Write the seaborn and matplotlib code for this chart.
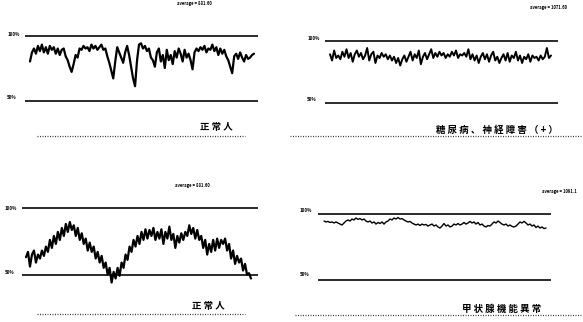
import matplotlib
matplotlib.use("Agg")
import matplotlib.pyplot as plt
from matplotlib.lines import Line2D
import pandas as pd
import seaborn as sns

# R-R interval traces, expressed as % of the reference (100% / 50% guide lines)
normal_a = [80, 87, 90, 86, 92, 88, 93, 87, 91, 86, 92, 89, 91, 86, 90, 85, 89, 90, 84, 81,
            76, 72, 78, 85, 83, 90, 89, 92, 90, 91, 88, 93, 90, 92, 89, 91, 93, 89, 90, 84,
            79, 73, 67, 80, 91, 87, 83, 79, 87, 92, 85, 76, 67, 61, 81, 93, 94, 90, 92, 88,
            90, 83, 81, 76, 87, 90, 80, 85, 75, 89, 81, 85, 78, 88, 83, 90, 86, 80, 89, 83,
            86, 81, 74, 87, 90, 88, 91, 89, 92, 87, 90, 89, 93, 88, 91, 85, 90, 86, 89, 84,
            81, 76, 71, 84, 86, 82, 87, 83, 80, 85, 82, 83, 85, 86]

diabetic = [89, 84, 92, 86, 88, 85, 91, 87, 93, 86, 90, 83, 89, 92, 87, 90, 85, 88, 94, 84,
            89, 91, 82, 88, 86, 90, 87, 89, 85, 88, 84, 87, 82, 86, 80, 85, 88, 83, 87, 91,
            84, 89, 86, 92, 81, 87, 90, 85, 89, 93, 86, 90, 87, 91, 88, 90, 86, 89, 87, 91,
            88, 92, 86, 89, 88, 90, 87, 93, 85, 89, 84, 88, 82, 87, 90, 85, 89, 83, 88, 91,
            84, 87, 82, 86, 89, 84, 90, 83, 88, 86, 91, 84, 88, 82, 87, 85, 89, 83, 88, 86,
            87, 84, 88, 85, 87, 94, 86, 88]

normal_b = [63, 67, 56, 65, 68, 59, 65, 62, 68, 64, 71, 67, 76, 70, 79, 73, 82, 76, 85, 79,
            88, 82, 89.5, 83.5, 87, 79, 85, 76, 81, 73, 77, 68, 74, 67, 71, 62, 67, 59, 64, 55,
            59, 50, 55, 44, 52, 47, 55, 49, 59, 55, 65, 61, 71, 67, 76, 71, 79, 73, 82, 76,
            84, 77, 83.5, 79, 85, 76, 82, 77, 84, 73, 82, 77, 86, 76, 80.5, 70, 79, 74, 81, 76,
            82, 79, 87, 80.5, 85, 77, 83.5, 76, 79, 70, 76, 65, 73, 67, 76, 68, 77, 70, 76, 73,
            77, 68, 73, 62, 68, 58, 64, 59, 62, 53, 58, 50, 51, 47]

thyroid = [94.3, 93.6, 94, 93.2, 93.6, 92.8, 93.6, 92.8, 92, 91.3, 92.8, 94.3, 95.1, 94.3, 95.8,
           95.1, 96.6, 95.5, 96.2, 95.1, 95.8, 94.3, 93.6, 94.3, 92.8, 93.6, 92, 93.2, 92.4, 93.6,
           92, 93.6, 94.3, 95.8, 95.1, 96.6, 95.8, 97, 95.8, 96.2, 95.1, 94.3, 93.6, 94, 92.8,
           92, 91.3, 92, 90.9, 92, 91.3, 91.7, 90.5, 91.3, 92, 90.5, 91.3, 89.8, 89, 90.5,
           92.4, 90.5, 91.3, 89.8, 90.5, 92, 91.3, 92.4, 91.3, 92, 93.2, 92, 92.8, 94, 92.8,
           93.6, 92, 93.2, 91.3, 92, 90.5, 89.8, 90.9, 90.5, 92, 93.6, 92.8, 94.3, 93.2, 92,
           91.3, 92, 90.5, 91.3, 90.2, 89.8, 90.5, 92, 93.6, 92.8, 94, 92.8, 91.3, 92, 90.5,
           91.3, 89.4, 90.5, 89, 89.8, 88.6, 89]

titles = ["正 常 人", "糖 尿 病 、 神 経 障 害 （ + ）", "正 常 人", "甲 状 腺 機 能 異 常"]
means = ["average = 881.60", "average = 1071.60", "average = 881.60", "average = 1091.1"]
guide_labels = ["100%", "50%"]

sns.set_theme(style="white")
plt.rcParams["font.family"] = ["Noto Sans CJK JP", "DejaVu Sans"]

W, H = 583, 322
fig = plt.figure(figsize=(W / 100, H / 100), dpi=100)
fig.patch.set_facecolor("white")


def draw_panel(values, y_top, y_bot, line_x, trace_x, lw):
    """Place one trace; y_top/y_bot are pixel rows of the 100% and 50% guides."""
    L, R = line_x
    T, B = y_top - 14, y_bot + 12
    ax = fig.add_axes([L / W, 1 - B / H, (R - L) / W, (B - T) / H])
    n = len(values)
    x0, x1 = trace_x
    ppu = (x1 - x0) / (n - 1)
    k = (y_bot - y_top) / 50.0
    xlim = ((L - x0) / ppu, (R - x0) / ppu)
    ylim = (100 - (B - y_top) / k, 100 + (y_top - T) / k)
    ax.hlines([100, 50], xlim[0], xlim[1], colors="#1a1a1a", linewidth=1.3)
    df = pd.DataFrame({"t": range(n), "v": values})
    sns.lineplot(data=df, x="t", y="v", ax=ax, color="black", linewidth=lw)
    ax.set_xlim(*xlim)
    ax.set_ylim(*ylim)
    ax.axis("off")
    return ax


def ftext(px, py, s, size, ha="left", weight="bold"):
    fig.text(px / W, 1 - py / H, s, fontsize=size, ha=ha, va="center",
             fontweight=weight, color="black")


def dotted(xa, xb, py):
    fig.add_artist(Line2D([xa / W, xb / W], [1 - py / H, 1 - py / H],
                          transform=fig.transFigure, color="#333333",
                          linewidth=0.9, linestyle=(0, (0.8, 1.2))))


# top-left
draw_panel(normal_a, 35.5, 100.5, (25, 258), (30, 254), 1.6)
ftext(8, 34.5, guide_labels[0], 3.2)
ftext(7, 97.5, guide_labels[1], 3.2)
ftext(194, 3.5, means[0], 3.0, ha="center")
ftext(216, 127, titles[0], 6.8, ha="center")
dotted(37, 245, 136)

# top-right
draw_panel(diabetic, 40.5, 103, (325, 558), (330, 551), 1.4)
ftext(308, 38.5, guide_labels[0], 3.2)
ftext(307, 100, guide_labels[1], 3.2)
ftext(548, 7, means[1], 3.0, ha="center")
ftext(497, 130, titles[1], 6.8, ha="center")
dotted(290, 583, 136)

# bottom-left
draw_panel(normal_b, 208, 274.5, (22, 258), (26, 251), 1.6)
ftext(5, 208, guide_labels[0], 3.2)
ftext(5, 273, guide_labels[1], 3.2)
ftext(192, 186, means[2], 3.0, ha="center")
ftext(208, 306, titles[2], 6.8, ha="center")
dotted(37, 245, 314)

# bottom-right
draw_panel(thyroid, 213.5, 279.5, (318, 551), (324, 546), 1.0)
ftext(300, 211, guide_labels[0], 3.2)
ftext(300, 275, guide_labels[1], 3.2)
ftext(542, 192, means[3], 3.0)
ftext(502, 309, titles[3], 6.8, ha="center")
dotted(295, 583, 315)

fig.savefig("out.png", dpi=100, facecolor="white")
